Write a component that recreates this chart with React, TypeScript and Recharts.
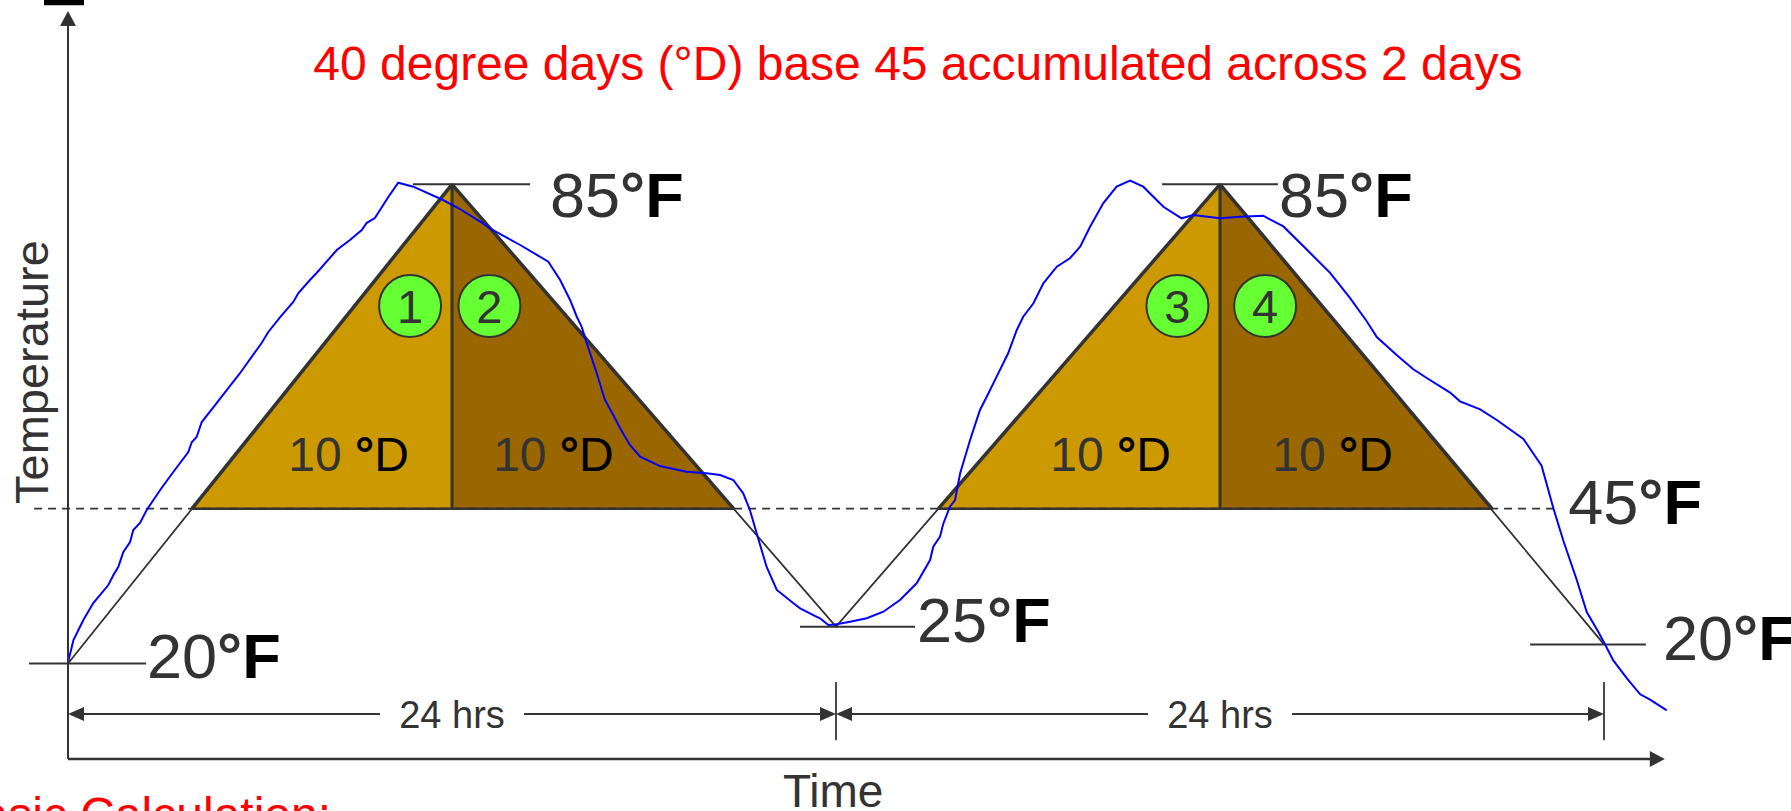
import React from 'react';
import {
  ComposedChart,
  XAxis,
  YAxis,
  Line,
  Area,
  ReferenceLine,
  ReferenceDot,
  ReferenceArea,
} from 'recharts';

// ---------------- data ----------------
// model day: straight-line temperatures at the vertices (hours, temperature as drawn)
const vertexHours = [0, 12, 24, 36, 48];
const vertexTemps = [20, 85, 25, 85, 22.6];
const vertexLabels = ['20', '85', '25', '85', '20'];

// threshold (base 45) as drawn
const baseTemp = 41;
const baseLabel = '45';

// triangle base crossings (hours) and peaks
const triangleBaseHours = [
  [3.875, 20.8],
  [27.2, 44.5],
];
const peakHours = [12, 36];
const peakTemp = 85;

// degree-day pieces
const ddNumbers = [1, 2, 3, 4];
const ddValues = ['10', '10', '10', '10'];

// observed (blue) temperature trace
const obsHours = [
  0, 0.17, 0.48, 0.79, 1.26, 1.42, 1.57, 1.73, 1.94, 2.04, 2.25, 2.46, 2.88, 3.29, 3.76, 3.87, 4.02, 4.18,
  4.65, 5.38, 6.05, 6.26, 6.63, 7.04, 7.2, 7.56, 7.77, 8.4, 8.81, 9.18, 9.33, 9.59, 9.75, 10.01, 10.32,
  10.79, 11.72, 12.25, 12.88, 13.28, 14.13, 15.01, 15.38, 15.69, 15.9, 16.05, 16.21, 16.52, 16.78, 17.04,
  17.25, 17.56, 17.88, 18.5, 19.33, 19.96, 20.38, 20.79, 21.1, 21.31, 21.52, 21.83, 22.15, 22.67, 22.88,
  23.29, 23.5, 23.76, 23.97, 24.44, 24.96, 25.48, 26.0, 26.52, 26.94, 27.04, 27.25, 27.35, 27.56, 27.72,
  27.88, 28.19, 28.5, 28.71, 29.02, 29.38, 29.65, 29.85, 30.17, 30.48, 30.9, 31.31, 31.63, 31.94, 32.35,
  32.77, 33.19, 33.6, 34.23, 34.8, 35.17, 36.0, 36.63, 37.35, 37.56, 37.98, 38.71, 39.44, 40.06, 40.58,
  40.9, 41.52, 42.04, 42.56, 42.88, 43.19, 43.5, 44.13, 44.65, 45.48, 46.05, 46.42, 46.73, 47.15, 47.46,
  47.82, 48.03, 48.29, 48.71, 49.13, 49.44, 49.96,
];
const obsTemps = [
  20.1, 23.19, 25.91, 28.21, 30.65, 32.01, 33.1, 35.13, 36.49, 38.11, 39.06, 40.83, 43.54, 45.98, 48.69,
  50.05, 50.73, 52.76, 55.34, 59.41, 63.48, 64.97, 67.0, 69.04, 70.26, 72.02, 72.97, 76.09, 77.45, 78.8,
  79.75, 80.43, 81.52, 83.28, 85.22, 84.68, 82.87, 81.65, 79.93, 78.8, 76.77, 74.51, 72.02, 69.31, 67.04,
  65.69, 63.48, 59.41, 55.75, 53.71, 51.95, 49.64, 48.06, 46.79, 46.02, 45.8, 45.57, 44.9, 43.09, 40.83,
  37.67, 33.14, 29.98, 28.17, 27.49, 26.58, 26.14, 25.23, 25.3, 25.68, 26.14, 27.03, 28.62, 30.88, 34.04,
  35.85, 37.21, 38.93, 41.27, 42.18, 45.8, 50.32, 54.39, 56.19, 58.91, 62.08, 65.24, 67.04, 68.86, 71.57,
  73.83, 74.97, 76.54, 79.25, 82.43, 84.68, 85.49, 84.68, 81.96, 80.39, 80.84, 80.39, 80.61, 80.74, 80.26,
  79.29, 76.15, 72.99, 69.6, 66.46, 64.29, 61.85, 59.91, 58.46, 57.59, 56.76, 55.56, 54.48, 53.03, 50.47,
  46.84, 41.02, 36.66, 31.33, 26.99, 24.31, 22.61, 20.43, 18.01, 15.83, 15.11, 13.65,
];

// text
const titleText = '40 degree days (°D) base 45 accumulated across 2 days';
const yTitle = 'Temperature';
const xTitle = 'Time';
const spanLabel = '24 hrs';
const calcText = 'Basic Calculation:';
const spanHours = [0, 24, 48];

// ---------------- layout (positions in chart coordinates) ----------------
const X_DOMAIN: [number, number] = [-2.125, 53.84375];
const Y_DOMAIN: [number, number] = [0, 110];
const tickFrom = [-1.22, 10.78, 22.875, 34.19, 45.69];
const tickTo = [2.44, 14.44, 26.47, 37.81, 49.31];
const labelAtHour = [2.47, 15.06, 26.53, 37.84, 49.84];
const labelAtTemp = [18.04, 80.57, 22.92, 80.57, 20.48];
const baseLabelAt = { t: 46.88, v: 38.98 };
const baseLineFrom = -1.06;
const baseLineTo = 46.5;
const badgeHours = [10.69, 13.17, 34.67, 37.41];
const badgeTemp = 68.5;
const ddLabelHours = [8.77, 15.17, 32.58, 39.52];
const ddLabelTemp = 46.1;
const axisBottom = 7.05;
const axisTop = 108.5;
const axisRight = 49.9;
const spanLevel = 13.16;
const spanTextGap = 2.25;
const spanTextLevel = 11.25;
const spanTickTop = 17.5;
const spanTickBottom = 9.6;

// ---------------- derived series ----------------
const vLine = vertexHours.map((t, i) => ({ t, v: vertexTemps[i] }));
const obs = obsHours.map((t, i) => ({ t, v: obsTemps[i] }));
const triHalves = triangleBaseHours.flatMap((b, i) => [
  [
    { t: b[0], v: baseTemp },
    { t: peakHours[i], v: peakTemp },
  ],
  [
    { t: peakHours[i], v: peakTemp },
    { t: b[1], v: baseTemp },
  ],
]);
const halfFills = ['#CC9900', '#996600', '#CC9900', '#996600'];

const FONT = '"Liberation Sans", Arial, Helvetica, sans-serif';
const INK = '#333333';

type Dir = 'up' | 'right' | 'left';
const arrowShape = (dir: Dir, len: number, half: number) => (p: any) => {
  const cx = p.cx;
  const cy = p.cy;
  let pts = '';
  if (dir === 'up') pts = `${cx},${cy} ${cx - half},${cy + len} ${cx + half},${cy + len}`;
  if (dir === 'right') pts = `${cx},${cy} ${cx - len},${cy - half} ${cx - len},${cy + half}`;
  if (dir === 'left') pts = `${cx},${cy} ${cx + len},${cy - half} ${cx + len},${cy + half}`;
  return <polygon points={pts} fill={INK} stroke="none" />;
};

const tempLabelShape = (digits: string) => (p: any) => (
  <text x={p.cx} y={p.cy} fontFamily={FONT} fontSize={63} fill={INK}>
    <tspan>{digits}</tspan>
    <tspan fontWeight="bold">°</tspan>
    <tspan fontWeight="bold" fill="#000">
      F
    </tspan>
  </text>
);

const badgeShape = (n: number) => (p: any) => (
  <g>
    <circle cx={p.cx} cy={p.cy} r={31} fill="#66FF33" stroke={INK} strokeWidth={2} />
    <text x={p.cx} y={p.cy + 17} textAnchor="middle" fontFamily={FONT} fontSize={47} fill={INK}>
      {n}
    </text>
  </g>
);

const ddShape = (val: string) => (p: any) => (
  <text x={p.cx} y={p.cy} textAnchor="middle" fontFamily={FONT} fontSize={48} fill={INK}>
    <tspan>{val} </tspan>
    <tspan fill="#000" fontWeight="bold">°</tspan>
    <tspan fill="#000">D</tspan>
  </text>
);

const plainText =
  (content: string, size: number, fill: string, anchor: 'start' | 'middle' | 'end', rotate = false) =>
  (p: any) => (
    <text
      x={p.cx}
      y={p.cy}
      textAnchor={anchor}
      fontFamily={FONT}
      fontSize={size}
      fill={fill}
      transform={rotate ? `rotate(-90 ${p.cx} ${p.cy})` : undefined}
    >
      {content}
    </text>
  );

export default function App() {
  return (
    <div style={{ position: 'absolute', left: 0, top: 0, width: 1791, height: 811, background: '#fff' }}>
      <ComposedChart width={1791} height={811} margin={{ top: 0, right: 0, bottom: 0, left: 0 }}>
        <XAxis type="number" dataKey="t" domain={X_DOMAIN} allowDataOverflow hide />
        <YAxis type="number" dataKey="v" domain={Y_DOMAIN} allowDataOverflow hide />

        {triHalves.map((d, i) => (
          <Area
            key={`tri${i}`}
            data={d}
            dataKey="v"
            type="linear"
            baseValue={baseTemp}
            fill={halfFills[i]}
            fillOpacity={1}
            stroke={INK}
            strokeWidth={3.5}
            dot={false}
            activeDot={false}
            isAnimationActive={false}
          />
        ))}

        <Line
          data={vLine}
          dataKey="v"
          type="linear"
          stroke={INK}
          strokeWidth={1.8}
          dot={false}
          activeDot={false}
          isAnimationActive={false}
        />

        {triangleBaseHours.map((b, i) => (
          <ReferenceLine
            key={`base${i}`}
            segment={[
              { x: b[0], y: baseTemp },
              { x: b[1], y: baseTemp },
            ]}
            stroke={INK}
            strokeWidth={2.5}
            ifOverflow="visible"
          />
        ))}
        <ReferenceLine
          segment={[
            { x: baseLineFrom, y: baseTemp },
            { x: baseLineTo, y: baseTemp },
          ]}
          stroke={INK}
          strokeWidth={1.8}
          strokeDasharray="8 6"
          ifOverflow="visible"
        />
        {peakHours.map((t, i) => (
          <ReferenceLine
            key={`div${i}`}
            segment={[
              { x: t, y: baseTemp },
              { x: t, y: peakTemp },
            ]}
            stroke={INK}
            strokeWidth={3}
            ifOverflow="visible"
          />
        ))}

        {vertexTemps.map((v, i) => (
          <ReferenceLine
            key={`tick${i}`}
            segment={[
              { x: tickFrom[i], y: v },
              { x: tickTo[i], y: v },
            ]}
            stroke={INK}
            strokeWidth={2}
            ifOverflow="visible"
          />
        ))}

        <Line
          data={obs}
          dataKey="v"
          type="linear"
          stroke="#0000FF"
          strokeWidth={2}
          dot={false}
          activeDot={false}
          isAnimationActive={false}
        />

        {ddNumbers.map((n, i) => (
          <ReferenceDot key={`badge${i}`} x={badgeHours[i]} y={badgeTemp} r={31} ifOverflow="visible" shape={badgeShape(n)} />
        ))}
        {ddValues.map((val, i) => (
          <ReferenceDot key={`dd${i}`} x={ddLabelHours[i]} y={ddLabelTemp} r={1} ifOverflow="visible" shape={ddShape(val)} />
        ))}

        {vertexLabels.map((lab, i) => (
          <ReferenceDot key={`vl${i}`} x={labelAtHour[i]} y={labelAtTemp[i]} r={1} ifOverflow="visible" shape={tempLabelShape(lab)} />
        ))}
        <ReferenceDot x={baseLabelAt.t} y={baseLabelAt.v} r={1} ifOverflow="visible" shape={tempLabelShape(baseLabel)} />

        {/* axes */}
        <ReferenceLine
          segment={[
            { x: 0, y: axisBottom },
            { x: 0, y: axisTop - 2 },
          ]}
          stroke={INK}
          strokeWidth={2}
          ifOverflow="visible"
        />
        <ReferenceDot x={0} y={axisTop} r={1} ifOverflow="visible" shape={arrowShape('up', 15, 8)} />
        <ReferenceLine
          segment={[
            { x: 0, y: axisBottom },
            { x: axisRight - 0.4, y: axisBottom },
          ]}
          stroke={INK}
          strokeWidth={2.5}
          ifOverflow="visible"
        />
        <ReferenceDot x={axisRight} y={axisBottom} r={1} ifOverflow="visible" shape={arrowShape('right', 15, 8)} />

        {/* 24 hrs spans */}
        {spanHours.slice(0, 2).map((t0, i) => {
          const t1 = spanHours[i + 1];
          const mid = (t0 + t1) / 2;
          return (
            <React.Fragment key={`span${i}`}>
              <ReferenceLine
                segment={[
                  { x: t0 + 0.3, y: spanLevel },
                  { x: mid - spanTextGap, y: spanLevel },
                ]}
                stroke={INK}
                strokeWidth={2}
                ifOverflow="visible"
              />
              <ReferenceLine
                segment={[
                  { x: mid + spanTextGap, y: spanLevel },
                  { x: t1 - 0.3, y: spanLevel },
                ]}
                stroke={INK}
                strokeWidth={2}
                ifOverflow="visible"
              />
              <ReferenceDot x={t0} y={spanLevel} r={1} ifOverflow="visible" shape={arrowShape('left', 16, 7)} />
              <ReferenceDot x={t1} y={spanLevel} r={1} ifOverflow="visible" shape={arrowShape('right', 16, 7)} />
              <ReferenceDot x={mid} y={spanTextLevel} r={1} ifOverflow="visible" shape={plainText(spanLabel, 38, INK, 'middle')} />
            </React.Fragment>
          );
        })}
        {spanHours.slice(1).map((t, i) => (
          <ReferenceLine
            key={`stick${i}`}
            segment={[
              { x: t, y: spanTickBottom },
              { x: t, y: spanTickTop },
            ]}
            stroke={INK}
            strokeWidth={1.8}
            ifOverflow="visible"
          />
        ))}

        {/* titles */}
        <ReferenceDot x={26.56} y={99.15} r={1} ifOverflow="visible" shape={plainText(titleText, 48, '#FF0000', 'middle')} />
        <ReferenceDot x={-0.625} y={59.54} r={1} ifOverflow="visible" shape={plainText(yTitle, 47, INK, 'middle', true)} />
        <ReferenceDot x={22.34} y={0.54} r={1} ifOverflow="visible" shape={plainText(xTitle, 46, INK, 'start')} />
        <ReferenceDot x={8.22} y={-2.7} r={1} ifOverflow="visible" shape={plainText(calcText, 48, '#FF0000', 'end')} />
        <ReferenceArea x1={-0.75} x2={0.5} y1={109.3} y2={110} fill="#000" fillOpacity={1} stroke="none" ifOverflow="visible" />
      </ComposedChart>
    </div>
  );
}
